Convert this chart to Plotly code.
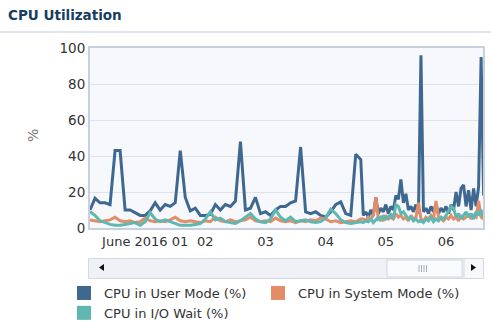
import pandas as pd
import plotly.graph_objects as go

# ---- samples: two-hourly history, then hourly detail for the last two days ----
coarse_times = pd.date_range("2016-05-31 02:00", periods=55, freq="2h")
fine_times = pd.date_range("2016-06-04 15:00", periods=49, freq="h")

user_coarse = [10, 16.5, 14, 14, 13, 43, 43, 10, 10, 8.5,
               7, 7, 9.5, 14, 10, 13, 12, 14, 43, 17,
               9.5, 11, 7, 7, 7.5, 13, 10, 13, 12, 15,
               48, 10, 11, 17, 8, 9, 7, 10, 12, 12,
               14, 15, 45, 9, 8, 9, 7, 6, 9, 13,
               14.5, 8, 7, 41, 38]
user_fine = [7, 9, 6, 10, 7, 17, 8, 11, 9, 13,
             8, 12, 10, 18, 16, 27, 14, 19, 10, 12,
             9, 13, 8, 96, 9, 11, 8, 12, 9, 13,
             8, 11, 9, 12, 8, 13, 10, 20, 12, 22,
             24, 12, 21, 10, 22, 12, 23, 95, 18]

system_coarse = [4.5, 4, 3.5, 4, 4.5, 6, 4, 3.5, 4, 3,
                 3.5, 5.5, 4, 3.5, 4, 3.5, 4.5, 6, 4, 3.5,
                 4, 3.5, 3, 4, 3.5, 6, 4, 3.5, 4.5, 3.5,
                 4, 4.5, 6, 4, 3.5, 4, 3.5, 5.5, 4, 3.5,
                 4, 3, 4, 3.5, 4.5, 4, 5.5, 5, 3.5, 4,
                 3, 3.5, 4, 3.5, 5]
system_fine = [5, 4, 6, 5, 7, 17, 5, 6, 4, 7,
               5, 6, 5, 8, 6, 7, 5, 6, 4, 7,
               5, 6, 14, 5, 4, 6, 5, 7, 5, 15,
               6, 5, 4, 6, 5, 7, 5, 6, 4, 7,
               5, 6, 8, 5, 7, 6, 15, 6, 5]

iowait_coarse = [9, 7, 4, 3, 2, 1.5, 1.5, 2, 2.5, 3,
                 1.5, 3.5, 8.5, 5, 3.5, 4.5, 3.5, 2.5, 1.5, 1.5,
                 1.5, 2, 2.5, 5, 9, 4.5, 5.5, 3.5, 3, 2.5,
                 4, 6, 8, 5, 3.5, 3, 5, 10, 6, 4,
                 6, 3.5, 4, 4.5, 3.5, 3, 3.5, 5.5, 10.5, 8,
                 4.5, 3, 2.5, 3, 3.5]
iowait_fine = [3, 4, 3.5, 5, 3, 4.5, 6, 4, 7, 5,
               6, 8, 5, 13, 12, 8, 9, 7, 5, 6,
               4, 5, 3.5, 4, 3, 5, 4, 6, 3.5, 5,
               4, 6, 5, 7, 10, 12, 11, 6, 8, 5,
               7, 9, 6, 8, 5, 9, 7, 10, 6]

series_names = ["CPU in User Mode (%)", "CPU in System Mode (%)", "CPU in I/O Wait (%)"]
series_colors = ["#3f6890", "#e38d68", "#5fb7b1"]
# which legend box each series' swatch goes into (two columns)
series_legends = ["legend", "legend2", "legend"]

day_ticks = pd.date_range("2016-06-01", periods=6, freq="D")
day_labels = ["June 2016 01", "02", "03", "04", "05", "06"]
x_window = ["2016-05-31 02:00", "2016-06-06 14:45"]

times = list(coarse_times) + list(fine_times)
values = [user_coarse + user_fine,
          system_coarse + system_fine,
          iowait_coarse + iowait_fine]

W, H = 491, 321
ML, MR, MT, MB = 90, 8, 48, 93
PW, PH = W - ML - MR, H - MT - MB
FONT = "DejaVu Sans"


def px(x):
    """pixel column -> paper x"""
    return (x - ML) / PW


def py(y):
    """pixel row -> paper y"""
    return (H - MB - y) / PH


fig = go.Figure()

for name, color, vals in zip(series_names, series_colors, values):
    fig.add_trace(go.Scatter(
        x=times, y=vals, mode="lines", name=name, showlegend=False,
        line=dict(color=color, width=3), hoverinfo="skip",
    ))

# square legend swatches
for name, color, lg in zip(series_names, series_colors, series_legends):
    fig.add_trace(go.Scatter(
        x=[None], y=[None], mode="markers", name=name, legend=lg,
        marker=dict(symbol="square", size=14, color=color),
    ))

shapes = []
# rule under the header
shapes.append(dict(type="line", xref="paper", yref="paper",
                   x0=px(0), x1=px(W), y0=py(32), y1=py(32),
                   line=dict(color="#d6dce7", width=1.5)))
# scrollbar track
shapes.append(dict(type="rect", xref="paper", yref="paper",
                   x0=px(88.5), x1=px(483.5), y0=py(278.5), y1=py(258.5),
                   fillcolor="#eff1f6", line=dict(color="#d3d8e2", width=1)))
# scrollbar thumb
shapes.append(dict(type="rect", xref="paper", yref="paper",
                   x0=px(387), x1=px(462), y0=py(277), y1=py(260),
                   fillcolor="#fafbfd", line=dict(color="#cfd5e1", width=1)))
# right button
shapes.append(dict(type="rect", xref="paper", yref="paper",
                   x0=px(464), x1=px(483.5), y0=py(278.5), y1=py(258.5),
                   fillcolor="#f7f8fb", line=dict(color="#d3d8e2", width=1)))
# grip
for gx in (419, 421.5, 424, 426.5):
    shapes.append(dict(type="line", xref="paper", yref="paper",
                       x0=px(gx), x1=px(gx), y0=py(272), y1=py(265),
                       line=dict(color="#a7afbf", width=1)))
# arrows
shapes.append(dict(type="path", xref="paper", yref="paper",
                   path=f"M {px(99)} {py(267.5)} L {px(104)} {py(264)} L {px(104)} {py(271)} Z",
                   fillcolor="#111111", line=dict(width=0)))
shapes.append(dict(type="path", xref="paper", yref="paper",
                   path=f"M {px(476)} {py(267.5)} L {px(471)} {py(264)} L {px(471)} {py(271)} Z",
                   fillcolor="#111111", line=dict(width=0)))

legend_style = dict(
    orientation="v", xref="paper", yref="paper", xanchor="left", yanchor="top",
    itemsizing="trace", tracegroupgap=0,
    font=dict(family=FONT, size=13, color="#333333"),
    bgcolor="rgba(0,0,0,0)", traceorder="normal",
)

fig.update_layout(
    width=W, height=H,
    margin=dict(l=ML, r=MR, t=MT, b=MB, pad=0, autoexpand=False),
    paper_bgcolor="#ffffff",
    plot_bgcolor="#f7f8fc",
    font=dict(family=FONT, size=13, color="#333333"),
    title=dict(text="CPU Utilization", x=8 / W, xanchor="left",
               y=1 - 15 / H, yanchor="middle",
               font=dict(family=FONT, size=13.5, color="#173d63", weight="bold")),
    xaxis=dict(
        type="date", range=x_window,
        tickvals=list(day_ticks), ticktext=day_labels,
        showgrid=False, zeroline=False, ticks="",
        showline=True, linecolor="#c8cfdf", linewidth=2, mirror=True,
        tickfont=dict(family=FONT, size=13, color="#333333"),
    ),
    yaxis=dict(
        range=[0, 100], tickvals=[0, 20, 40, 60, 80, 100],
        showgrid=True, gridcolor="#dde2ec", gridwidth=1, zeroline=False, ticks="",
        showline=True, linecolor="#c8cfdf", linewidth=2, mirror=True,
        tickfont=dict(family=FONT, size=13.5, color="#333333"),
    ),
    annotations=[dict(text="%", xref="paper", yref="paper", x=px(33), y=py(136),
                      xanchor="center", yanchor="middle",
                      showarrow=False, textangle=-90,
                      font=dict(family=FONT, size=14, color="#7a7a7a"))],
    legend=dict(legend_style, x=px(64), y=py(278)),
    legend2=dict(legend_style, x=px(258), y=py(278)),
    shapes=shapes,
    showlegend=True,
)

fig.write_html("out.html", config={"displayModeBar": False})
